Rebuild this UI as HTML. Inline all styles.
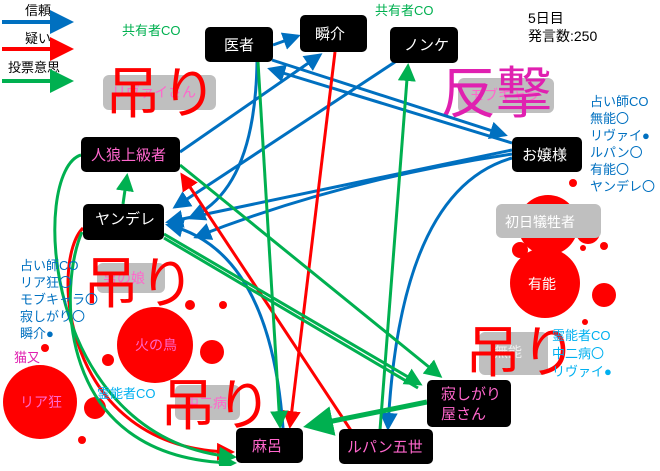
<!DOCTYPE html>
<html><head><meta charset="utf-8"><style>
body{margin:0;background:#fff;width:660px;height:466px;overflow:hidden}
svg{font-family:"Liberation Sans","Noto Sans CJK JP",sans-serif}
</style></head><body>
<svg width="660" height="466" viewBox="0 0 660 466" xmlns="http://www.w3.org/2000/svg">
<defs>
<marker id="b" markerWidth="6" markerHeight="6" refX="5" refY="3" orient="auto" markerUnits="strokeWidth"><path d="M0,0L6,3L0,6z" fill="#0070c0"/></marker>
<marker id="r" markerWidth="6" markerHeight="6" refX="5" refY="3" orient="auto" markerUnits="strokeWidth"><path d="M0,0L6,3L0,6z" fill="#ff0000"/></marker>
<marker id="g" markerWidth="6" markerHeight="6" refX="5" refY="3" orient="auto" markerUnits="strokeWidth"><path d="M0,0L6,3L0,6z" fill="#00b050"/></marker>
</defs>
<!-- splats -->
<g fill="#ff0000">
<circle cx="155" cy="345" r="38"/><circle cx="212" cy="352" r="12"/><circle cx="108" cy="360" r="6"/><circle cx="190" cy="305" r="5"/><circle cx="223" cy="305" r="4"/><circle cx="45" cy="108" r="0"/>
<circle cx="40" cy="402" r="37"/><circle cx="95" cy="408" r="11"/><circle cx="45" cy="348" r="4"/><circle cx="82" cy="440" r="4"/>
<circle cx="548" cy="225" r="30"/><circle cx="588" cy="232" r="12"/><circle cx="573" cy="183" r="4"/><circle cx="604" cy="246" r="4"/>
<circle cx="545" cy="283" r="35"/><circle cx="604" cy="295" r="12"/><circle cx="583" cy="248" r="3"/><circle cx="585" cy="322" r="3"/><circle cx="520" cy="250" r="8"/>
</g>
<!-- gray boxes -->
<g fill="#bfbfbf">
<rect x="103" y="75" width="113" height="35" rx="6"/>
<rect x="458" y="78" width="96" height="35" rx="6"/>
<rect x="496" y="204" width="105" height="34" rx="6"/>
<rect x="97" y="263" width="68" height="30" rx="6"/>
<rect x="479" y="332" width="69" height="43" rx="6"/>
<rect x="175" y="385" width="65" height="35" rx="6"/>
</g>
<g font-size="14" fill="#ff66cc">
<text x="112" y="97">リヴァイさん</text>
<text x="470" y="100">モブキャラ</text>
<text x="103" y="283">男の娘</text>
<text x="185" y="408">中二病</text>
</g>
<g font-size="14" fill="#fff">
<text x="505" y="227">初日犠牲者</text>
<text x="528" y="289">有能</text>
<text x="494" y="357" fill="#eee">無能</text>
</g>
<text x="135" y="350" font-size="14" fill="#ff66cc">火の鳥</text>
<text x="20" y="407" font-size="14" fill="#ff66cc">リア狂</text>
<!-- big labels -->
<g font-size="56" fill="#ff0000">
<text x="105" y="113">吊り</text>
<text x="83" y="303">吊り</text>
<text x="160" y="425">吊り</text>
<text x="465" y="372">吊り</text>
</g>
<text x="440" y="113" font-size="56" fill="#e020b0">反撃</text>
<!-- edges -->
<g fill="none" stroke-width="3">
<line x1="273" y1="45" x2="298" y2="36" stroke="#0070c0" marker-end="url(#b)"/>
<line x1="180" y1="152" x2="320" y2="55" stroke="#0070c0" marker-end="url(#b)"/>
<line x1="395" y1="62" x2="175" y2="207" stroke="#0070c0" marker-end="url(#b)"/>
<path d="M257,62 Q255,190 190,218" stroke="#0070c0" marker-end="url(#b)"/>
<line x1="512" y1="150" x2="168" y2="222" stroke="#0070c0" marker-end="url(#b)"/>
<path d="M512,154 Q340,180 196,237" stroke="#0070c0" marker-end="url(#b)"/>
<path d="M283,428 Q270,250 168,225" stroke="#0070c0" marker-end="url(#b)"/>
<line x1="512" y1="143" x2="270" y2="69" stroke="#0070c0" marker-end="url(#b)"/>
<line x1="272" y1="60" x2="505" y2="135" stroke="#0070c0" marker-end="url(#b)"/>
<path d="M512,158 Q400,190 388,428" stroke="#0070c0" marker-end="url(#b)"/>
<line x1="335" y1="52" x2="290" y2="426" stroke="#ff0000" marker-end="url(#r)"/>
<line x1="352" y1="432" x2="182" y2="175" stroke="#ff0000" marker-end="url(#r)"/>
<path d="M83,228 C50,260 60,450 232,452" stroke="#ff0000" marker-end="url(#r)"/>
<line x1="258" y1="62" x2="280" y2="426" stroke="#00b050" marker-end="url(#g)"/>
<line x1="380" y1="430" x2="408" y2="66" stroke="#00b050" marker-end="url(#g)"/>
<line x1="123" y1="204" x2="127" y2="176" stroke="#00b050" marker-end="url(#g)"/>
<line x1="180" y1="165" x2="440" y2="376" stroke="#00b050" marker-end="url(#g)"/>
<line x1="164" y1="234" x2="420" y2="384" stroke="#00b050" marker-end="url(#g)"/>
<line x1="164" y1="238" x2="418" y2="388" stroke="#00b050"/>
<line x1="427" y1="402" x2="308" y2="426" stroke="#00b050" stroke-width="5" marker-end="url(#g)"/>
<path d="M81,155 C30,170 40,440 234,457" stroke="#00b050" marker-end="url(#g)"/>
<path d="M82,232 C60,280 50,460 234,463" stroke="#00b050" marker-end="url(#g)"/>
</g>
<!-- nodes -->
<g fill="#000">
<rect x="205" y="27" width="68" height="35" rx="5"/>
<rect x="300" y="15" width="67" height="37" rx="5"/>
<rect x="390" y="27" width="68" height="36" rx="5"/>
<rect x="512" y="137" width="70" height="35" rx="5"/>
<rect x="81" y="137" width="99" height="35" rx="5"/>
<rect x="83" y="204" width="81" height="36" rx="5"/>
<rect x="427" y="380" width="84" height="47" rx="5"/>
<rect x="339" y="429" width="94" height="35" rx="5"/>
<rect x="236" y="428" width="67" height="35" rx="5"/>
</g>
<g font-size="15" fill="#fff">
<text x="224" y="50">医者</text>
<text x="315" y="39">瞬介</text>
<text x="404" y="50">ノンケ</text>
<text x="522" y="160">お嬢様</text>
<text x="95" y="215" dy="9">ヤンデレ</text>
</g>
<g font-size="15" fill="#ff66cc">
<text x="91" y="160">人狼上級者</text>
<text x="441" y="399">寂しがり</text>
<text x="441" y="419">屋さん</text>
<text x="347" y="452">ルパン五世</text>
<text x="252" y="451">麻呂</text>
</g>
<!-- legend -->
<g font-size="13" fill="#000">
<text x="25" y="15">信頼</text>
<text x="25" y="43">疑い</text>
<text x="8" y="72">投票意思</text>
</g>
<line x1="2" y1="22" x2="70" y2="22" stroke="#0070c0" stroke-width="4" marker-end="url(#b)"/>
<line x1="2" y1="49" x2="70" y2="49" stroke="#ff0000" stroke-width="4" marker-end="url(#r)"/>
<line x1="2" y1="81" x2="70" y2="81" stroke="#00b050" stroke-width="4" marker-end="url(#g)"/>
<g font-size="13" fill="#00b050">
<text x="122" y="35">共有者CO</text>
<text x="375" y="15">共有者CO</text>
</g>
<g font-size="14" fill="#000">
<text x="528" y="23">5日目</text>
<text x="528" y="41">発言数:250</text>
</g>
<g font-size="13" fill="#0070c0">
<text x="590" y="106">占い師CO</text>
<text x="590" y="123">無能〇</text>
<text x="590" y="140">リヴァイ●</text>
<text x="590" y="157">ルパン〇</text>
<text x="590" y="174">有能〇</text>
<text x="590" y="191">ヤンデレ〇</text>
<text x="20" y="270">占い師CO</text>
<text x="20" y="287">リア狂〇</text>
<text x="20" y="304">モブキャラ〇</text>
<text x="20" y="321">寂しがり〇</text>
<text x="20" y="338">瞬介●</text>
</g>
<g font-size="13" fill="#00b0f0">
<text x="552" y="340">霊能者CO</text>
<text x="552" y="358">中二病〇</text>
<text x="552" y="376">リヴァイ●</text>
<text x="97" y="398">霊能者CO</text>
</g>
<text x="14" y="362" font-size="13" fill="#e020b0">猫又</text>
</svg>
</body></html>
